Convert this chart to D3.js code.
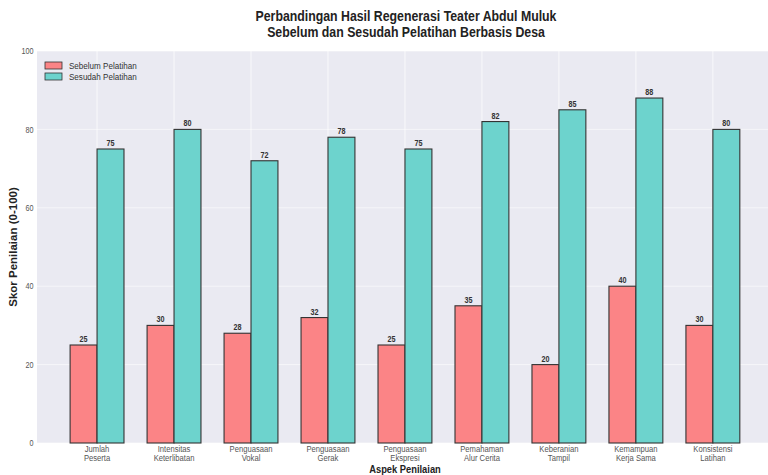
<!DOCTYPE html>
<html>
<head>
<meta charset="utf-8">
<script src="https://cdn.jsdelivr.net/npm/d3@7"></script>
<style>
  body { margin: 0; background: #fff; }
  text { font-family: "Liberation Sans", Arial, sans-serif; }
</style>
</head>
<body>
<svg id="chart" width="768" height="475"></svg>
<script>
const categories = [
  ["Jumlah", "Peserta"],
  ["Intensitas", "Keterlibatan"],
  ["Penguasaan", "Vokal"],
  ["Penguasaan", "Gerak"],
  ["Penguasaan", "Ekspresi"],
  ["Pemahaman", "Alur Cerita"],
  ["Keberanian", "Tampil"],
  ["Kemampuan", "Kerja Sama"],
  ["Konsistensi", "Latihan"]
]
const sebelum = [25, 30, 28, 32, 25, 35, 20, 40, 30]
const sesudah = [75, 80, 72, 78, 75, 82, 85, 88, 80]
const yTicks = [0, 20, 40, 60, 80, 100]
const seriesNames = ["Sebelum Pelatihan", "Sesudah Pelatihan"]

const svg = d3.select('#chart')
const plotLeft = 37, plotRight = 776, plotTop = 51, plotBottom = 443
const sq = 0.85   // the picture is squeezed sideways, text too

// category index -> pixel, bars sit either side of the center
const x = d3.scaleLinear().domain([-0.78, 8.82]).range([plotLeft, plotRight])
const y = d3.scaleLinear().domain([0, 100]).range([plotBottom, plotTop])
const bw = 0.35

// places a text at (px, py) with the sideways squeeze
function label(g, px, py) {
  return g.append('text')
    .attr('transform', `translate(${px}, ${py}) scale(${sq}, 1)`)
}

svg.append('rect')
  .attr('x', plotLeft).attr('y', plotTop)
  .attr('width', 768 - plotLeft).attr('height', plotBottom - plotTop)
  .attr('fill', '#eaeaf2')

// grid
svg.append('g').selectAll('line')
  .data(yTicks)
  .enter().append('line')
  .attr('x1', plotLeft).attr('x2', 768)
  .attr('y1', d => y(d)).attr('y2', d => y(d))
  .attr('stroke', '#fff').attr('stroke-opacity', 0.7).attr('stroke-width', 0.8)
svg.append('g').selectAll('line')
  .data(categories)
  .enter().append('line')
  .attr('x1', (d, i) => x(i)).attr('x2', (d, i) => x(i))
  .attr('y1', plotTop).attr('y2', plotBottom)
  .attr('stroke', '#fff').attr('stroke-opacity', 0.8).attr('stroke-width', 0.9)

// y axis
const yaxis = d3.axisLeft(y).tickValues(yTicks).tickSize(0).tickPadding(4)
const gy = svg.append('g')
  .attr('transform', `translate(${plotLeft}, 0)`)
  .call(yaxis)
gy.select('.domain').remove()
gy.selectAll('text')
  .attr('font-size', 8.5).attr('fill', '#555')
  .attr('font-family', '"Liberation Sans", Arial, sans-serif')
  .attr('transform', `scale(${sq}, 1)`)

// x axis with two-line labels
const gx = svg.append('g')
categories.forEach((d, i) => {
  const t = label(gx, x(i), plotBottom + 8.5)
    .attr('text-anchor', 'middle')
    .attr('font-size', 9)
    .attr('fill', '#555')
  t.selectAll('tspan')
    .data(d)
    .enter().append('tspan')
    .attr('x', 0)
    .attr('dy', (s, j) => j === 0 ? 0 : 10)
    .text(s => s)
})

// bars
const series = [
  { vals: sebelum, off: -bw / 2, color: '#fb8486' },
  { vals: sesudah, off: bw / 2, color: '#6dd3cd' }
]
series.forEach(s => {
  const g = svg.append('g')
  g.selectAll('rect')
    .data(s.vals)
    .enter().append('rect')
    .attr('x', (d, i) => x(i + s.off - bw / 2))
    .attr('y', d => y(d))
    .attr('width', x(bw) - x(0))
    .attr('height', d => y(0) - y(d))
    .attr('fill', s.color)
    .attr('stroke', '#333')
    .attr('stroke-width', 1.1)
  s.vals.forEach((d, i) => {
    label(g, x(i + s.off), y(d) - 3)
      .attr('text-anchor', 'middle')
      .attr('font-size', 8.5)
      .attr('font-weight', 'bold')
      .attr('fill', '#333')
      .text(d)
  })
})

// legend
const legend = svg.append('g').attr('transform', 'translate(45, 62)')
seriesNames.forEach((name, i) => {
  legend.append('rect')
    .attr('x', 0).attr('y', i * 11)
    .attr('width', 17).attr('height', 7)
    .attr('fill', series[i].color)
    .attr('stroke', '#333').attr('stroke-width', 0.8)
  label(legend, 24, i * 11 + 7)
    .attr('font-size', 9.5).attr('fill', '#333')
    .text(name)
})

// titles
label(svg, 406, 21)
  .attr('text-anchor', 'middle')
  .attr('font-size', 14.5).attr('font-weight', 'bold').attr('fill', '#222')
  .text('Perbandingan Hasil Regenerasi Teater Abdul Muluk')
label(svg, 406, 37)
  .attr('text-anchor', 'middle')
  .attr('font-size', 14.5).attr('font-weight', 'bold').attr('fill', '#222')
  .text('Sebelum dan Sesudah Pelatihan Berbasis Desa')

label(svg, 405, 473)
  .attr('text-anchor', 'middle')
  .attr('font-size', 11).attr('font-weight', 'bold').attr('fill', '#222')
  .text('Aspek Penilaian')

svg.append('text')
  .attr('transform', 'translate(17, 247) rotate(-90)')
  .attr('text-anchor', 'middle')
  .attr('font-size', 11.5).attr('font-weight', 'bold').attr('fill', '#222')
  .text('Skor Penilaian (0-100)')
</script>
</body>
</html>
